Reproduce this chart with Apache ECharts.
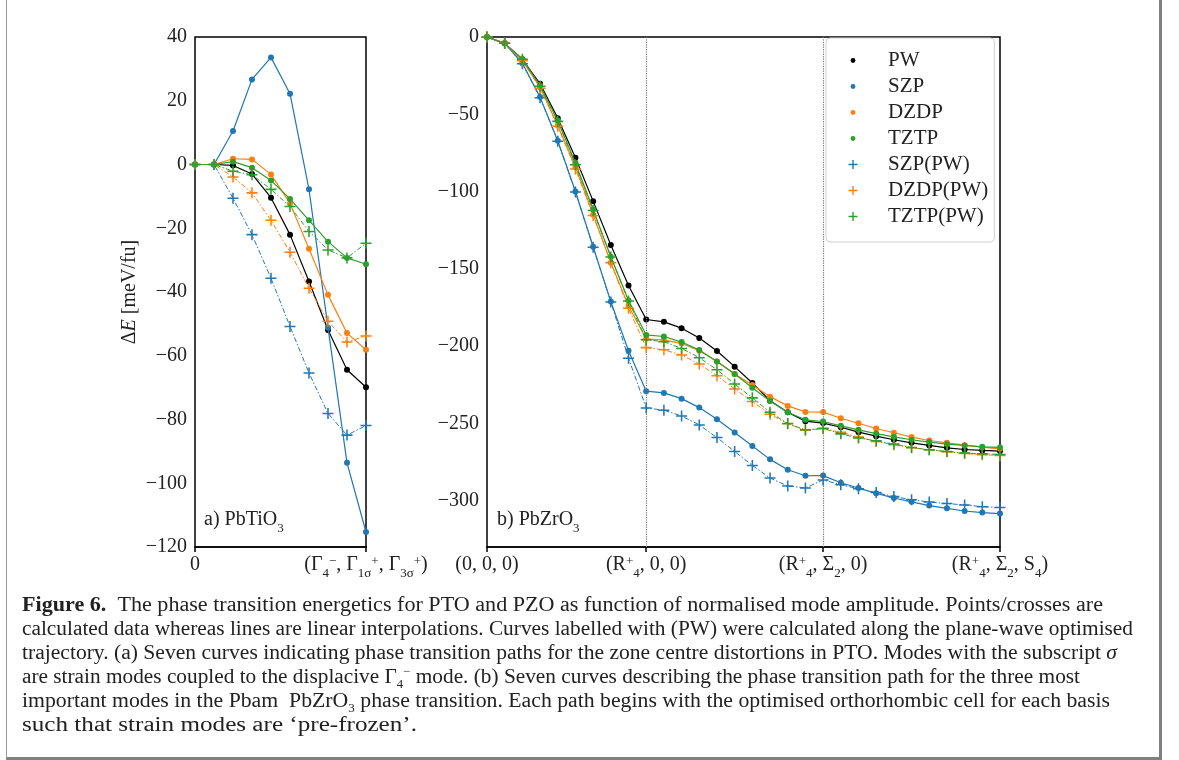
<!DOCTYPE html>
<html>
<head>
<meta charset="utf-8">
<script src="https://cdn.jsdelivr.net/npm/echarts@6/dist/echarts.min.js"></script>
<style>
  html, body { margin: 0; padding: 0; background: #fff; }
  #frame {
    position: absolute; left: 6px; top: -2px; width: 1156px; height: 762px;
    border-left: 1px solid #999; border-right: 3px solid #808080; border-bottom: 3px solid #808080;
    box-sizing: border-box;
  }
  #chart { position: absolute; left: 0; top: 0; width: 1179px; height: 760px; }
  #caption {
    position: absolute; left: 22px; top: 592px;
    font-family: 'Liberation Serif', serif; font-size: 20px; line-height: 24px; color: #222;
    white-space: nowrap;
  }
  #caption div { display: inline-block; transform-origin: 0 50%; }
  #caption sub, #caption sup { font-size: 12px; line-height: 0; }
</style>
</head>
<body>
<div id="frame"></div>
<div id="chart"></div>
<div id="caption">
  <div data-w="1081"><b>Figure 6.</b>&nbsp;&nbsp;The phase transition energetics for PTO and PZO as function of normalised mode amplitude. Points/crosses are</div><br>
  <div data-w="1111">calculated data whereas lines are linear interpolations. Curves labelled with (PW) were calculated along the plane-wave optimised</div><br>
  <div data-w="1095">trajectory. (a) Seven curves indicating phase transition paths for the zone centre distortions in PTO. Modes with the subscript <i>σ</i></div><br>
  <div data-w="1058">are strain modes coupled to the displacive Γ<sub>4</sub><sup>−</sup> mode. (b) Seven curves describing the phase transition path for the three most</div><br>
  <div data-w="1088">important modes in the Pbam&nbsp; PbZrO<sub>3</sub> phase transition. Each path begins with the optimised orthorhombic cell for each basis</div><br>
  <div data-w="395">such that strain modes are ‘pre-frozen’.</div>
</div>
<script>
// amplitude steps along each path
const ptoSteps = [0, 1, 2, 3, 4, 5, 6, 7, 8, 9]
const pzoSteps = [0, 1, 2, 3, 4, 5, 6, 7, 8, 9, 10, 11, 12, 13, 14, 15, 16, 17, 18, 19,
                  20, 21, 22, 23, 24, 25, 26, 27, 28, 29]

// tick positions (step index) and their labels
const ptoTickAt = [0, 9]
const ptoTickLabels = ['0', '(Γ{sb|4}{sp|−}, Γ{sb|1σ}{sp|+}, Γ{sb|3σ}{sp|+})']
const pzoTickAt = [0, 9, 19, 29]
const pzoTickLabels = ['(0, 0, 0)', '(R{sp|+}{sb|4}, 0, 0)', '(R{sp|+}{sb|4}, Σ{sb|2}, 0)', '(R{sp|+}{sb|4}, Σ{sb|2}, S{sb|4})']
const pzoYTicks = [0, -50, -100, -150, -200, -250, -300]

const seriesNames = ['PW', 'SZP', 'DZDP', 'TZTP', 'SZP(PW)', 'DZDP(PW)', 'TZTP(PW)']

// a) PbTiO3, meV/fu
const ptoPW     = [0, 0, -0.3, -3.0, -10.4, -22.0, -36.7, -51.9, -64.4, -69.9]
const ptoSZP    = [0, 0, 10.5, 26.7, 33.6, 22.2, -7.8, -51.2, -93.6, -115.3]
const ptoDZDP   = [0, 0, 1.8, 1.6, -3.1, -12.2, -26.4, -40.9, -52.9, -58.1]
const ptoTZTP   = [0, 0, 0.9, -1.0, -5.0, -10.8, -17.5, -24.2, -29.3, -31.3]
const ptoSZPpw  = [0, 0, -10.6, -22.0, -35.7, -50.8, -65.4, -78.1, -84.9, -81.9]
const ptoDZDPpw = [0, 0, -3.9, -8.9, -17.5, -27.5, -38.8, -49.2, -55.7, -53.8]
const ptoTZTPpw = [0, 0, -2.1, -3.2, -7.8, -13.2, -21.0, -26.8, -29.3, -24.7]

// b) PbZrO3, meV/fu
const pzoPW = [0, -4.1, -14.4, -30.3, -52.5, -78.1, -106.2, -134.6, -160.8, -182.8,
  -184.3, -188.4, -194.8, -203.2, -213.3, -223.9, -235.3, -242.8, -248.6, -249.8,
  -252.5, -255.7, -258.3, -260.6, -262.6, -264.3, -265.8, -266.9, -267.5, -267.9]
const pzoSZP = [0, -4.1, -17.0, -38.9, -67.1, -100.0, -135.7, -171.2, -203.0, -229.2,
  -230.3, -234.0, -239.8, -247.3, -255.9, -264.7, -273.3, -280.0, -283.9, -283.8,
  -288.4, -291.8, -295.3, -298.3, -300.8, -303.2, -305.0, -306.7, -307.7, -308.4]
const pzoDZDP = [0, -4.1, -15.3, -32.5, -57.2, -84.1, -114.8, -146.0, -174.0, -195.3,
  -196.1, -198.3, -203.0, -209.9, -218.1, -225.2, -232.7, -238.7, -242.6, -242.7,
  -246.7, -249.9, -253.3, -256.1, -258.9, -261.1, -262.6, -264.1, -265.4, -266.5]
const pzoTZTP = [0, -4.1, -14.4, -31.4, -54.0, -81.5, -111.6, -142.2, -170.5, -192.8,
  -193.8, -197.4, -202.6, -209.9, -218.1, -226.9, -235.5, -242.8, -247.7, -248.8,
  -251.6, -254.2, -256.6, -258.7, -260.6, -262.1, -263.4, -264.3, -265.2, -265.6]
const pzoSZPpw = [0, -4.1, -17.3, -39.3, -67.5, -100.3, -136.0, -171.5, -207.8, -240.0,
  -241.5, -245.2, -251.0, -259.2, -268.2, -277.2, -285.4, -290.5, -291.8, -286.6,
  -289.7, -292.3, -294.8, -297.4, -299.4, -300.9, -301.9, -302.8, -303.9, -304.5]
const pzoDZDPpw = [0, -4.1, -15.3, -33.1, -57.8, -85.4, -115.5, -146.0, -175.5, -201.0,
  -202.4, -205.8, -211.6, -219.2, -227.7, -235.9, -244.1, -250.3, -254.4, -253.5,
  -255.7, -258.9, -261.7, -263.9, -265.8, -267.1, -268.4, -269.5, -270.3, -270.8]
const pzoTZTPpw = [0, -4.1, -14.4, -31.8, -54.6, -82.6, -112.3, -142.4, -170.8, -195.9,
  -197.2, -201.5, -207.5, -215.3, -224.5, -233.5, -242.8, -250.1, -254.2, -253.2,
  -256.8, -259.5, -261.3, -263.4, -265.6, -267.1, -268.2, -269.2, -269.7, -270.1]

const colors = ['#000000', '#1f77b4', '#ff7f0e', '#2ca02c', '#1f77b4', '#ff7f0e', '#2ca02c']
const FONT = 'Liberation Serif'
const FS = 20
const PLUS = 'path://M4.3,0H5.7V4.3H10V5.7H5.7V10H4.3V5.7H0V4.3H4.3Z'
// legend icons: 50x10 box (moveTo points fix the box), mark centred at x=20
const LEG_DOT = 'path://M0,0M50,10M20,2.6A2.4,2.4,0,1,1,20,7.4A2.4,2.4,0,1,1,20,2.6Z'
const LEG_PLUS = 'path://M0,0M50,10M19.3,0.5H20.7V4.3H24.5V5.7H20.7V9.5H19.3V5.7H15.5V4.3H19.3Z'

const rich = {
  sb: { fontFamily: FONT, fontSize: 13, verticalAlign: 'bottom', lineHeight: 13, padding: [0, 0, -5, 0] },
  sp: { fontFamily: FONT, fontSize: 13, verticalAlign: 'top', lineHeight: 13 },
  it: { fontFamily: FONT, fontSize: FS, fontStyle: 'italic' }
}

function fmtY(v) {
  return (v < 0 ? '\u2212' : '') + Math.abs(v)
}

function makeSeries(name, data, panel, idx) {
  const plus = idx >= 4
  return {
    name: name,
    type: 'line',
    xAxisIndex: panel,
    yAxisIndex: panel,
    data: data,
    symbol: plus ? PLUS : 'circle',
    symbolSize: plus ? 11 : 6,
    showAllSymbol: true,
    z: 2 + idx,
    itemStyle: { color: colors[idx] },
    lineStyle: { color: colors[idx], width: plus ? 1 : 1.2, type: plus ? [5, 2, 1.5, 2] : 'solid' },
    emphasis: { disabled: true }
  }
}

const ptoData = [ptoPW, ptoSZP, ptoDZDP, ptoTZTP, ptoSZPpw, ptoDZDPpw, ptoTZTPpw]
const pzoData = [pzoPW, pzoSZP, pzoDZDP, pzoTZTP, pzoSZPpw, pzoDZDPpw, pzoTZTPpw]

const series = []
ptoData.forEach((d, i) => series.push(makeSeries(seriesNames[i], d, 0, i)))
pzoData.forEach((d, i) => series.push(makeSeries(seriesNames[i], d, 1, i)))
// dotted guides at the end of each mode path
series[7].markLine = {
  silent: true,
  symbol: ['none', 'none'],
  label: { show: false },
  lineStyle: { color: '#777', type: 'dotted', width: 1.2 },
  data: [{ xAxis: 9 }, { xAxis: 19 }]
}

const axisCommon = {
  axisLine: { onZero: false, lineStyle: { color: '#000', width: 1.5 } },
  axisTick: { length: 5, lineStyle: { color: '#000', width: 1.5 } },
  splitLine: { show: false }
}
const labelCommon = { color: '#222', fontFamily: FONT, fontSize: FS, rich: rich }

const option = {
  animation: false,
  textStyle: { fontFamily: FONT },
  grid: [
    { left: 195, top: 37, width: 171, height: 510, show: true, borderColor: '#000', borderWidth: 1.5 },
    { left: 487, top: 37, width: 513, height: 510, show: true, borderColor: '#000', borderWidth: 1.5 }
  ],
  xAxis: [
    Object.assign({}, axisCommon, {
      type: 'category', gridIndex: 0, data: ptoSteps, boundaryGap: false,
      axisTick: Object.assign({}, axisCommon.axisTick, { interval: i => ptoTickAt.includes(i) }),
      axisLabel: Object.assign({}, labelCommon, {
        interval: i => ptoTickAt.includes(i), margin: 8,
        formatter: (v, i) => ptoTickLabels[ptoTickAt.indexOf(i)] || ''
      })
    }),
    Object.assign({}, axisCommon, {
      type: 'category', gridIndex: 1, data: pzoSteps, boundaryGap: false,
      axisTick: Object.assign({}, axisCommon.axisTick, { interval: i => pzoTickAt.includes(i) }),
      axisLabel: Object.assign({}, labelCommon, {
        interval: i => pzoTickAt.includes(i), margin: 8,
        formatter: (v, i) => pzoTickLabels[pzoTickAt.indexOf(i)] || ''
      })
    })
  ],
  yAxis: [
    Object.assign({}, axisCommon, {
      type: 'value', gridIndex: 0, min: -120, max: 40, interval: 20,
      axisLabel: Object.assign({}, labelCommon, { margin: 8, formatter: fmtY }),
      name: 'Δ{it|E} [meV/fu]', nameLocation: 'middle', nameRotate: 90, nameGap: 55,
      nameTextStyle: labelCommon
    }),
    Object.assign({}, axisCommon, {
      type: 'value', gridIndex: 1, min: -330, max: 0,
      axisTick: Object.assign({}, axisCommon.axisTick, { customValues: pzoYTicks }),
      axisLabel: Object.assign({}, labelCommon, { margin: 8, formatter: fmtY, customValues: pzoYTicks })
    })
  ],
  legend: {
    left: 826, top: 38, orient: 'vertical',
    backgroundColor: '#fff', borderColor: '#d0d0d0', borderWidth: 1, borderRadius: 4,
    padding: [12, 6, 15, 7],
    itemWidth: 50, itemHeight: 10, itemGap: 5,
    textStyle: { fontFamily: FONT, fontSize: 21, color: '#222', lineHeight: 20 },
    selectedMode: false,
    data: seriesNames.map((n, i) => ({ name: n, icon: i < 4 ? LEG_DOT : LEG_PLUS }))
  },
  graphic: [
    { type: 'text', left: 204, top: 510, style: { text: 'a) PbTiO{sb|3}', fontFamily: FONT, fontSize: FS, fill: '#222', rich: rich } },
    { type: 'text', left: 497, top: 510, style: { text: 'b) PbZrO{sb|3}', fontFamily: FONT, fontSize: FS, fill: '#222', rich: rich } }
  ],
  series: series
}

const chart = echarts.init(document.getElementById('chart'))
chart.setOption(option)

// stretch each caption line to the width it has in the figure
document.querySelectorAll('#caption div').forEach(el => {
  const w = el.getBoundingClientRect().width
  el.style.transform = 'scaleX(' + (Number(el.dataset.w) / w) + ')'
})
</script>
</body>
</html>
